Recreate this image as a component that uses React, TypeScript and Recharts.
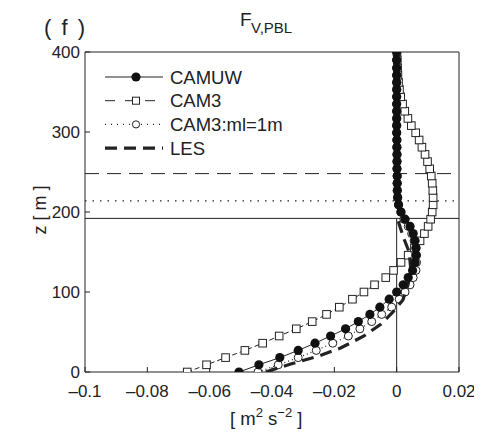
import {
  ComposedChart,
  Scatter,
  XAxis,
  YAxis,
  ReferenceLine,
} from "recharts";

// model levels (m) shared by the three SCM runs
const zLevels = [
  0, 9, 18, 27, 36, 45, 54, 63, 72, 81, 91, 100, 109, 118, 127, 137, 146, 155,
  164, 173, 182, 191, 200, 209, 218, 227, 236, 245, 254, 263, 272, 281, 290,
  299, 308, 317, 326, 335, 344, 353, 362, 371, 380, 390, 400,
];

const camuw = [
  -0.0506, -0.0442, -0.0375, -0.0316, -0.0262, -0.0212, -0.0164, -0.0123,
  -0.0086, -0.0054, -0.0024, 0.0, 0.0021, 0.0037, 0.0051, 0.0059, 0.0062,
  0.0062, 0.0059, 0.0053, 0.0043, 0.0027, 0.0014, 0.0006, 0.0003, 0.0002,
  0.0002, 0.0002, 0.0001, 0.0001, 0.0001, 0.0001, 0.0001, 0.0, 0.0, 0.0, 0.0,
  0.0, 0.0, 0.0, 0.0, 0.0, 0.0, 0.0, 0.0,
];

const cam3 = [
  -0.0672, -0.061, -0.0549, -0.0487, -0.043, -0.0377, -0.0322, -0.0271,
  -0.0225, -0.0184, -0.0142, -0.0105, -0.0071, -0.0035, -0.001, 0.0014,
  0.0037, 0.0057, 0.0075, 0.0089, 0.0101, 0.0109, 0.0114, 0.0117, 0.0117,
  0.0116, 0.0114, 0.0111, 0.0106, 0.0099, 0.0091, 0.0081, 0.0072, 0.0061,
  0.0047, 0.0036, 0.0026, 0.0019, 0.0013, 0.0009, 0.0006, 0.0004, 0.0003,
  0.0002, 0.0001,
];

const cam3ml = [
  -0.0445, -0.038, -0.0316, -0.0258, -0.0205, -0.0155, -0.0118, -0.008,
  -0.0048, -0.0016, 0.0008, 0.0027, 0.0043, 0.0053, 0.0062, 0.0064, 0.0064,
  0.0062, 0.0056, 0.0048, 0.0037, 0.0023, 0.0013, 0.0006, 0.0003, 0.0002,
  0.0001, 0.0001, 0.0001, 0.0001, 0.0001, 0.0, 0.0, 0.0, 0.0, 0.0, 0.0, 0.0,
  0.0, 0.0, 0.0, 0.0, 0.0, 0.0, 0.0,
];

const lesZ = [0, 10, 20, 30, 45, 60, 75, 90, 110, 130, 150, 165, 180, 195];
const lesF = [
  -0.042, -0.034, -0.025, -0.018, -0.0105, -0.005, -0.0012, 0.002, 0.0037,
  0.0045, 0.004, 0.0025, 0.0012, 0.0,
];

// PBL heights (m)
const pblCam3 = 248;
const pblCam3ml = 214;
const pblCamuw = 192;

const xTicks = [-0.1, -0.08, -0.06, -0.04, -0.02, 0, 0.02];
const yTicks = [0, 100, 200, 300, 400];

const profile = (fs: number[]) => zLevels.map((z, i) => ({ x: fs[i], z }));
const camuwData = profile(camuw);
const cam3Data = profile(cam3);
const cam3mlData = profile(cam3ml);
const lesData = lesZ.map((z, i) => ({ x: lesF[i], z }));

const INK = "#222";
const FONT = "'Liberation Sans', Arial, sans-serif";

const fmtX = (v: number) =>
  v === 0 ? "0" : v < 0 ? "\u2013" + Math.abs(v) : String(v);

const FilledDot = (p: any) => <circle cx={p.cx} cy={p.cy} r={4.6} fill="#111" />;
const OpenDot = (p: any) => (
  <circle cx={p.cx} cy={p.cy} r={4} fill="#fff" stroke={INK} strokeWidth={1} />
);
const SquareDot = (p: any) => (
  <rect x={p.cx - 3.8} y={p.cy - 3.8} width={7.6} height={7.6} fill="#fff" stroke={INK} strokeWidth={1} />
);
const NoDot = () => <g />;

const tickStyle = { fill: INK, fontSize: 17, fontFamily: FONT };

function LegendRows() {
  const rows = [
    { name: "CAMUW", dash: undefined, w: 1, mark: "filled" },
    { name: "CAM3", dash: "10 10", w: 1, mark: "square" },
    { name: "CAM3:ml=1m", dash: "1 5", w: 1.2, mark: "open" },
    { name: "LES", dash: "12 7", w: 3.2, mark: "none" },
  ];
  return (
    <g transform="translate(97,55)">
      {rows.map((r, i) => {
        const y = 14 + i * 23.7;
        return (
          <g key={r.name}>
            <line x1={0} x2={58} y1={y} y2={y} stroke={INK} strokeWidth={r.w} strokeDasharray={r.dash} />
            {r.mark === "filled" && <circle cx={31} cy={y} r={4.6} fill="#111" />}
            {r.mark === "square" && (
              <rect x={27.5} y={y - 3.5} width={7} height={7} fill="#fff" stroke={INK} />
            )}
            {r.mark === "open" && <circle cx={31} cy={y} r={3.6} fill="#fff" stroke={INK} />}
            <text x={65} y={y + 6.5} fontSize={18.5} fontFamily={FONT} fill={INK}>
              {r.name}
            </text>
          </g>
        );
      })}
    </g>
  );
}

export default function App() {
  return (
    <div style={{ position: "relative", width: 474, height: 425, background: "#fff" }}>
      <ComposedChart
        width={474}
        height={425}
        margin={{ top: 39, right: 13, bottom: 31, left: 32 }}
      >
        <XAxis
          dataKey="x"
          type="number"
          domain={[-0.1, 0.02]}
          ticks={xTicks}
          interval={0}
          allowDataOverflow
          tickFormatter={fmtX}
          tickSize={-5}
          tickMargin={18}
          height={30}
          stroke={INK}
          tick={tickStyle}
        />
        <XAxis
          xAxisId="top"
          orientation="top"
          type="number"
          domain={[-0.1, 0.02]}
          ticks={xTicks}
          interval={0}
          tickFormatter={() => ""}
          tickSize={-5}
          height={5}
          stroke={INK}
        />
        <YAxis
          dataKey="z"
          type="number"
          domain={[0, 400]}
          ticks={yTicks}
          interval={0}
          allowDataOverflow
          tickSize={-5}
          tickMargin={10}
          width={45}
          stroke={INK}
          tick={tickStyle}
        />
        <YAxis
          yAxisId="right"
          orientation="right"
          type="number"
          domain={[0, 400]}
          ticks={yTicks}
          interval={0}
          tickFormatter={() => ""}
          tickSize={-5}
          width={10}
          stroke={INK}
        />
        <ReferenceLine y={pblCam3} stroke={INK} strokeWidth={1} strokeDasharray="14 8" />
        <ReferenceLine y={pblCam3ml} stroke={INK} strokeWidth={1.2} strokeDasharray="1.5 6" />
        <ReferenceLine y={pblCamuw} stroke={INK} strokeWidth={1} />
        <ReferenceLine
          segment={[
            { x: 0, y: 0 },
            { x: 0, y: pblCamuw },
          ]}
          stroke={INK}
          strokeWidth={1}
        />
        <Scatter
          name="CAM3"
          data={cam3Data}
          line={{ stroke: INK, strokeWidth: 1, strokeDasharray: "5 3" }}
          shape={SquareDot}
          isAnimationActive={false}
        />
        <Scatter
          name="CAM3:ml=1m"
          data={cam3mlData}
          line={{ stroke: INK, strokeWidth: 1.2, strokeDasharray: "1 3" }}
          shape={OpenDot}
          isAnimationActive={false}
        />
        <Scatter
          name="LES"
          data={lesData}
          line={{ stroke: INK, strokeWidth: 3.2, strokeDasharray: "12 7" }}
          shape={NoDot}
          isAnimationActive={false}
        />
        <Scatter
          name="CAMUW"
          data={camuwData}
          line={{ stroke: INK, strokeWidth: 1 }}
          shape={FilledDot}
          isAnimationActive={false}
        />
      </ComposedChart>
      <svg
        width={474}
        height={425}
        style={{ position: "absolute", left: 0, top: 0, pointerEvents: "none" }}
      >
        <text x={36} y={27} fontSize={22} fontFamily={FONT} fill={INK} letterSpacing={2}>
          ( f )
        </text>
        <text x={232} y={18} fontSize={19} fontFamily={FONT} fill={INK}>
          F
        </text>
        <text x={243} y={25} fontSize={15} fontFamily={FONT} fill={INK}>
          V,PBL
        </text>
        <text
          transform="translate(38,202) rotate(-90)"
          textAnchor="middle"
          fontSize={18}
          fontFamily={FONT}
          fill={INK}
        >
          z [ m ]
        </text>
        <text x={222} y={417} fontSize={18.5} fontFamily={FONT} fill={INK}>
          [ m
          <tspan dy={-8} fontSize={13}>2</tspan>
          <tspan dy={8}> s</tspan>
          <tspan dy={-8} fontSize={13}>{"\u22122"}</tspan>
          <tspan dy={8}> ]</tspan>
        </text>
        <LegendRows />
      </svg>
    </div>
  );
}
